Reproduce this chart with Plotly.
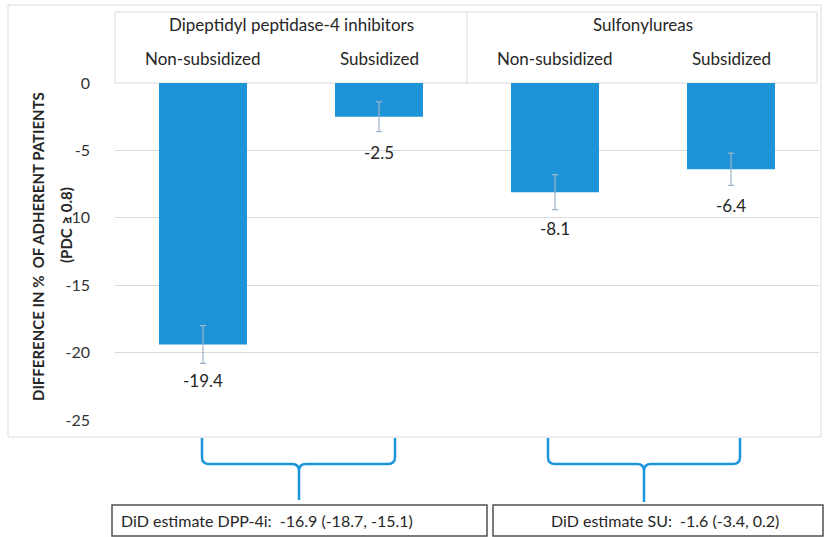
import plotly.graph_objects as go

# ---- data ----
groups = ["Dipeptidyl peptidase-4 inhibitors", "Sulfonylureas"]
subgroups = ["Non-subsidized", "Subsidized", "Non-subsidized", "Subsidized"]
values = [-19.4, -2.5, -8.1, -6.4]
errors = [1.4, 1.1, 1.3, 1.2]
y_ticks = [0, -5, -10, -15, -20, -25]
did_texts = ["DiD estimate DPP-4i:  -16.9 (-18.7, -15.1)",
             "DiD estimate SU:  -1.6 (-3.4, 0.2)"]
y_title_1 = "DIFFERENCE IN %  OF ADHERENT PATIENTS"
y_title_2 = "(PDC \u2265 0.8)"

W, H = 824, 537
PL, PR, PT, PB = 115, 819, 83, 420


def px(x):
    return (x - PL) / (PR - PL)


def py(y):
    return (PB - y) / (PB - PT)


FONT = "Lato, 'Open Sans', sans-serif"
TXT = "#262626"
BLUE = "#1f93d7"
BRACE = "#1b95dc"

xs = list(range(len(values)))

fig = go.Figure()
fig.add_trace(go.Bar(
    x=xs, y=values, width=0.5,
    marker=dict(color=BLUE, line=dict(width=0)),
    error_y=dict(type="data", array=errors, visible=True,
                 color="#9db4ca", thickness=1.2, width=3),
    hoverinfo="skip",
))

shapes = []
annotations = []


def label(x, y, text, size, xref="paper", yref="paper", family=FONT, **kw):
    d = dict(x=x, y=y, xref=xref, yref=yref, text=text, showarrow=False,
             xanchor="center", yanchor="middle",
             font=dict(family=family, size=size, color=TXT))
    d.update(kw)
    annotations.append(d)


# outer border
shapes.append(dict(type="rect", xref="paper", yref="paper",
                   x0=px(8), x1=px(821), y0=py(437), y1=py(5),
                   line=dict(color="#dcdcdc", width=1), layer="below"))
# header box
shapes.append(dict(type="rect", xref="paper", yref="paper",
                   x0=px(115), x1=px(817), y0=py(83), y1=py(12),
                   line=dict(color="#d9d9d9", width=1), layer="below"))
# divider between groups
shapes.append(dict(type="line", xref="x", yref="paper",
                   x0=1.5, x1=1.5, y0=py(83), y1=py(12),
                   line=dict(color="#d9d9d9", width=1)))

# header labels
for gi, g in enumerate(groups):
    label(2 * gi + 0.5, py(24), g, 17, xref="x")
for i, s in enumerate(subgroups):
    label(i, py(58), s, 17, xref="x")

# value labels
for i, v in enumerate(values):
    label(i, v, f"{v}", 17, xref="x", yref="y", yshift=-36)

# y axis title
label(px(38), py(247), f"<b>{y_title_1}</b>", 15, textangle=-90)
label(px(66), py(225), f"<b>{y_title_2}</b>", 15, textangle=-90)


def brace(xl, xr, xm, ytop, ybar, ytip, r=7):
    def P(x, y):
        return f"{px(x):.5f},{py(y):.5f}"
    return (f"M {P(xl, ytop)} L {P(xl, ybar - r)} Q {P(xl, ybar)} {P(xl + r, ybar)} "
            f"L {P(xm - r, ybar)} Q {P(xm, ybar)} {P(xm, ybar + r)} L {P(xm, ytip)} "
            f"M {P(xr, ytop)} L {P(xr, ybar - r)} Q {P(xr, ybar)} {P(xr - r, ybar)} "
            f"L {P(xm + r, ybar)} Q {P(xm, ybar)} {P(xm, ybar + r)}")


shapes.append(dict(type="path", xref="paper", yref="paper",
                   path=brace(202, 395, 299, 438, 464, 500),
                   line=dict(color=BRACE, width=2.5)))
shapes.append(dict(type="path", xref="paper", yref="paper",
                   path=brace(548, 740, 644, 438, 464, 502),
                   line=dict(color=BRACE, width=2.5)))

# DiD boxes
shapes.append(dict(type="rect", xref="paper", yref="paper",
                   x0=px(112), x1=px(487), y0=py(536), y1=py(505),
                   line=dict(color="#505050", width=1.5)))
shapes.append(dict(type="rect", xref="paper", yref="paper",
                   x0=px(493), x1=px(823), y0=py(536), y1=py(505),
                   line=dict(color="#505050", width=1.5)))
label(px(119), py(520), did_texts[0], 16, xanchor="left")
label(px(665), py(520), did_texts[1], 16)

fig.update_layout(
    width=W, height=H, autosize=False,
    margin=dict(l=PL, r=W - PR, t=PT, b=H - PB, pad=0),
    paper_bgcolor="white", plot_bgcolor="white",
    showlegend=False,
    shapes=shapes, annotations=annotations,
    xaxis=dict(range=[-0.5, 3.5], showticklabels=False, showgrid=False,
               zeroline=False, showline=False, fixedrange=True),
    yaxis=dict(range=[-25, 0], tickvals=y_ticks, ticktext=[str(t) for t in y_ticks],
               showgrid=True, gridcolor="#d9d9d9", gridwidth=1,
               zeroline=False, showline=False,
               ticks="", ticklabelstandoff=24,
               tickfont=dict(family=FONT, size=16, color="#333333")),
)

fig.write_html("out.html",
               config={"displayModeBar": False},
               post_script="document.body.style.margin='0';document.body.style.overflow='hidden';")
